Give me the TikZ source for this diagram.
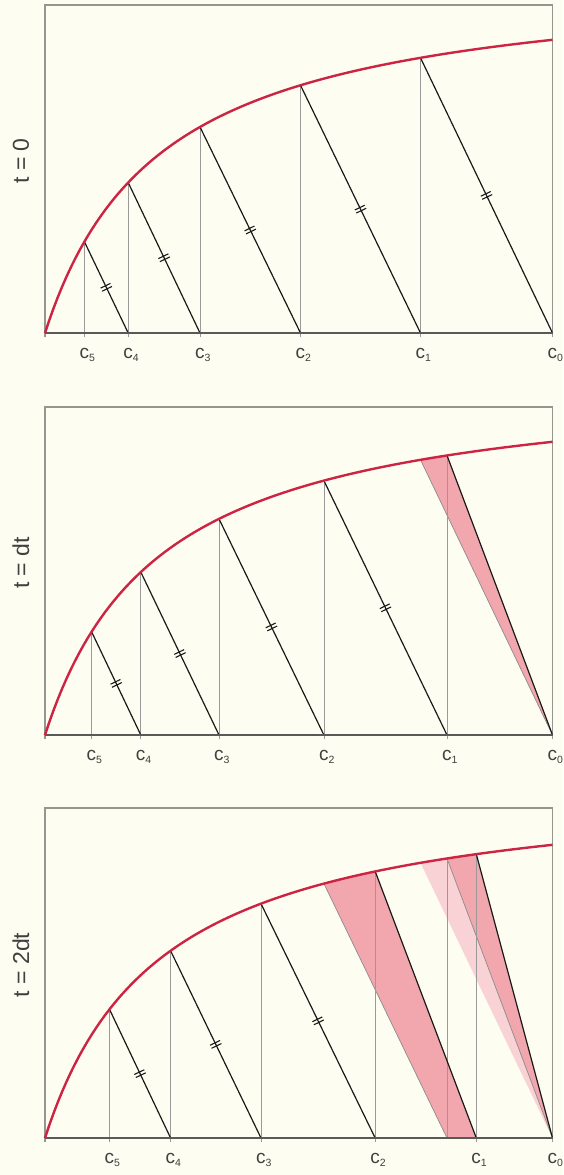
\documentclass[tikz,border=0pt]{standalone}
\usepackage{fontspec}
\setmainfont{Liberation Sans}
\usetikzlibrary{decorations.markings}
\definecolor{paper}{RGB}{253,253,241}
\definecolor{isoc}{RGB}{204,36,66}
\definecolor{band}{RGB}{242,166,173}
\definecolor{bandlt}{RGB}{249,210,213}
\definecolor{framec}{RGB}{150,150,145}
\newcommand{\csub}[1]{c{\fontsize{10.5}{10.5}\selectfont\raisebox{-3.5pt}{#1}}}
\tikzset{
  frameline/.style={framec,line width=1.3pt},
  axisline/.style={black!65,line width=1.6pt},
  riser/.style={black!40,line width=0.7pt},
  chord/.style={black!90,line width=1.2pt},
  oldchord/.style={black!45,line width=0.7pt},
  isoline/.style={isoc,line width=2.4pt},
  nohash/.style={},
  hashed/.style={postaction={decorate,decoration={markings,
    mark=at position .5 with {\draw[black!90,line width=1.1pt] (-1.7,-5.5)--(-1.7,5.5) (1.7,-5.5)--(1.7,5.5);}}}},
  clabel/.style={anchor=north,inner sep=1pt,xshift=2.8pt,text=black!75,font=\fontsize{19}{19}\selectfont},
  tlabel/.style={rotate=90,inner sep=1pt,text=black!75,font=\fontsize{23}{23}\selectfont}
}

\begin{document}
\begin{tikzpicture}[x=1pt,y=-1pt,declare function={iso(\u)=3.6*(\u-45)/(0.01*(\u+71));}]
  \fill[paper] (0,0) rectangle (563,1175);
  \useasboundingbox (0,0) rectangle (563,1175);
  % axis points c_i and their points on the isotherm
  \foreach \x [count=\i] in {84.4,128.2,200,300.5,420.5} {
    \pgfmathtruncatemacro\k{6-\i}
    \coordinate (p1c\k) at (\x,333); \coordinate (p1t\k) at (\x,{333-iso(\x)});}
  \foreach \x [count=\i] in {91.6,140.8,219,323.9,447} {
    \pgfmathtruncatemacro\k{6-\i}
    \coordinate (p2c\k) at (\x,735); \coordinate (p2t\k) at (\x,{735-iso(\x)});}
  \foreach \x [count=\i] in {109.5,170.6,261,375.2,476.3} {
    \pgfmathtruncatemacro\k{6-\i}
    \coordinate (p3c\k) at (\x,1138); \coordinate (p3t\k) at (\x,{1138-iso(\x)});}
  \coordinate (p1c0) at (552.5,333);
  \coordinate (p2c0) at (552.5,735);
  \coordinate (p3c0) at (552.5,1138);

  % shifted parts of the profile
  \coordinate (p2o1) at (420.5,{735-iso(420.5)});
  \fill[band] plot[domain=420.5:447] (\x,{735-iso(\x)}) -- (p2c0) -- cycle;
  \draw[oldchord] (p2o1) -- (p2c0);
  \coordinate (p3o1) at (447,{1138-iso(447)});
  \coordinate (p3o2) at (323.9,{1138-iso(323.9)});
  \coordinate (p3x1) at (447,1138);
  \fill[bandlt] plot[domain=420.5:447] (\x,{1138-iso(\x)}) -- (p3c0) -- cycle;
  \fill[band] plot[domain=447:476.3] (\x,{1138-iso(\x)}) -- (p3c0) -- cycle;
  \fill[band] plot[domain=323.9:375.2] (\x,{1138-iso(\x)}) -- (p3c1) -- (p3x1) -- cycle;
  \draw[oldchord] (p3o1) -- (p3c0) (p3o2) -- (p3x1);
  \draw[riser] (p3x1) -- (p3o1);

  \foreach \p/\base/\top/\lab in {1/333/5/{t = 0},2/735/407/{t = dt},3/1138/808/{t = 2dt}} {
    \draw[frameline] (45,\base+4) -- (45,\top) -- (552.5,\top) -- (p\p c0);
    \draw[riser] ([yshift=-4pt]p\p c0) -- (p\p c0);
    \foreach \i in {1,...,5}
      \draw[riser] ([yshift=-4pt]p\p c\i) -- (p\p t\i);
    \foreach \i in {1,...,5} {
      \pgfmathtruncatemacro\j{\i-1}
      \ifnum\i<\p \def\hs{nohash}\else\def\hs{hashed}\fi
      \draw[chord,\hs] (p\p t\i) -- (p\p c\j);
    }
    \draw[axisline] (45,\base) -- (p\p c0);
    \draw[isoline] plot[domain=45:552.5,samples=120] (\x,{\base-iso(\x)});
    \foreach \i in {0,...,5}
      \node[clabel] (p\p l\i) at ([yshift=-14pt]p\p c\i) {\csub{\i}};
    \node[tlabel] (p\p name) at (21,{(\base+\top)/2-8}) {\lab};
  }
\end{tikzpicture}
\end{document}
